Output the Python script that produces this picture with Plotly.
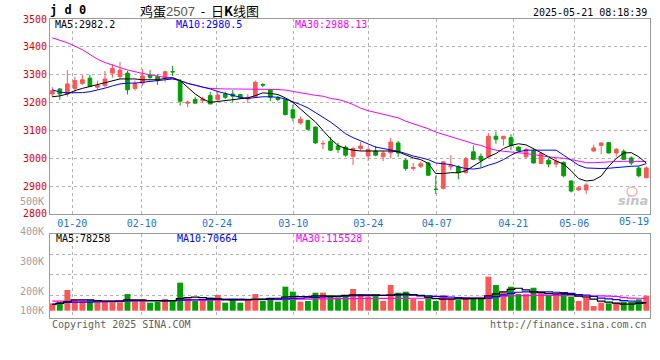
import plotly.graph_objects as go

# ---------------- data ----------------
opens = [3231,3249,3231,3251,3269,3288,3255,3261,3306,3294,
         3306,3251,3270,3299,3294,3290,3311,3276,3198,3211,
         3207,3225,3211,3231,3231,3229,3213,3221,3265,3245,
         3217,3211,3174,3127,3136,3112,3052,3061,3044,3040,
         3007,3035,3008,3026,3005,3019,3055,2993,2963,2971,
         2983,2888.5,2892,2969,2969,2948,3023,3007,3005,3079,
         3070,3074,3040,3005,3026,2981,2993,2979,2985,2918,
         2886,2886,3026,3046,3056,3019,3025,3001,2965,2930]
closes = [3243,3231,3267,3279,3282,3258,3261,3285,3323,3317,
          3246,3269,3296,3290,3279,3311,3310.5,3205,3201,3198,
          3213,3195,3227,3219,3223,3217,3219,3273,3263,3219,
          3211,3157,3145,3140,3104,3055,3052.5,3029,3031,3011,
          3035,3044,3031,3011,3019,3058,3019,2963,2967,2980,
          2939,2888,2987,2975,2948,2999,2996,2993,3079,3068,
          3079,3046,3026,3031,2983,3017,2979,2989,2937,2882,
          2894,2904,3037,3055,3019,3032,2996,2983,2937,2965]
highs = [3255,3252,3317,3293,3299,3300,3279,3314,3338,3346,
         3314,3279,3320,3317,3302,3314,3332,3285,3207,3221,
         3221,3239,3243,3239,3245,3231,3231,3279,3270,3249,
         3225,3213,3193,3150,3138,3114,3064,3076,3056,3046,
         3040,3058,3038,3044,3026,3073,3062,2999,2983,2989,
         2986,2937,2989,3011,2975,3005,3046,3017,3090,3096,
         3080,3086,3043,3038,3035,3023,2999,2999,2989,2921,
         2900,2910,3049,3056,3058,3037,3032,3007,2971,2971]
lows = [3219,3210,3221,3237,3264,3255,3249,3255,3290,3285,
        3229,3243,3261,3285,3264,3273,3296,3189,3183,3198,
        3198,3195,3201,3213,3201,3213,3198,3219,3255,3205,
        3205,3154,3133,3121,3100,3052,3032,3026,3019,3005,
        2975,3026,2990,3007,2990,2999,3005,2955,2955,2965,
        2936,2871,2888,2957,2924,2945,2993,2967,3002,3052,
        3046,3029,3023,2999,2981,2979,2967,2967,2931,2877,
        2883,2871,3023,3014,3017,3005,2995,2975,2931,2927]

ma5 = [3221,3224,3231,3243,3251,3258,3264,3273,3280,3285,
       3285,3285,3282,3281,3282,3287,3290,3279,3255,3231,
       3213,3201,3204,3207,3211,3213,3217,3225,3235,3233,
       3229,3217,3201,3177,3154,3130,3100,3070,3046,3035,
       3029,3026,3026,3026,3025,3026,3023,3013,3001,2995,
       2981,2945,2945,2948,2948,2955,2971,2987,3005,3017,
       3035,3046,3052,3048,3035,3020,3005,2990,2979,2955,
       2927,2918,2921,2936,2971,2999,3019,3020,3005,2982.2]
ma10 = [3246,3238,3235,3235,3236,3239,3245,3252,3260,3267,
        3270,3270,3273,3276,3279,3282,3285,3279,3269,3263,
        3257,3249,3240,3233,3225,3219,3215,3219,3221,3221,
        3219,3213,3204,3193,3181,3165,3148,3130,3110,3088,
        3074,3062,3052,3040,3035,3031,3025,3017,3008,3002,
        2995,2983,2981,2977,2969,2963,2961,2965,2975,2983,
        2995,3011,3023,3029,3029,3029,3029,3029,3011,2993,
        2975,2965,2963,2963,2964,2967,2969,2971,2972,2980.5]
ma30 = [3433,3424,3415,3403,3390,3373,3356,3344,3334,3326,
        3317,3310,3305,3300,3296,3290,3286,3279,3269,3262,
        3255,3251,3249,3249,3249,3249,3248,3248,3248,3247,
        3247,3245,3240,3237,3231,3226,3223,3215,3211,3204,
        3193,3180,3171,3164,3157,3151,3145,3133,3124,3114,
        3106,3094,3086,3079,3070,3061,3052,3046,3036,3029,
        3025,3023,3019,3017,3013,3008,3005,3002,3000,2995,
        2989,2984,2984,2986,2987,2988,2989,2988,2987,2988.13]

volumes = [70,86,197,102,95,102,80,92,80,80,
           158,95,111,76,86,111,102,266,118,92,
           101,124,149,76,108,76,108,158,92,124,
           86,228,181,86,92,171,171,149,127,139,
           206,158,133,139,92,244,171,181,111,92,
           133,92,149,111,101,127,127,111,323,244,
           175,228,158,158,218,165,149,158,175,133,
           92,127,44,76,70,76,86,86,108,143]
vma5 = [61,70,86,102,102,102,95,92,92,92,
        102,102,100,95,95,92,95,115,124,128,
        124,117,112,105,103,103,103,108,110,115,
        118,130,135,135,133,140,140,136,138,145,
        150,150,150,150,145,148,155,158,152,140,
        128,115,110,110,112,112,115,115,140,160,
        178,203,213,197,178,172,162,160,160,155,
        138,130,110,90,82,72,63,62,70,78]
vma10 = [61,70,78,80,80,82,83,85,86,88,
         92,95,96,96,96,95,96,100,102,104,
         106,108,110,110,110,110,108,108,108,110,
         110,113,117,120,123,126,130,133,136,139,
         142,142,143,145,146,147,148,150,148,145,
         140,136,133,130,125,120,118,116,120,133,
         150,165,175,178,178,178,178,175,171,165,
         152,149,135,120,112,105,96,92,80,71]
vma30 = [90,90,90,91,91,91,92,92,92,93,
         93,94,94,95,95,96,97,98,99,100,
         100,101,102,102,103,103,104,104,105,105,
         106,107,108,109,110,111,112,113,114,115,
         115,116,116,116,117,117,117,117,118,118,
         118,118,119,119,119,120,122,125,128,133,
         138,140,142,143,145,145,145,145,143,142,
         142,141,140,140,138,135,125,120,118,116]

tick_pos = [2.66, 11.89, 21.9, 32.05, 42.03, 51.12, 61.31, 69.42]
tick_labels = ["01-20", "02-10", "02-24", "03-10", "03-24", "04-07", "04-21", "05-06"]
last_label = "05-19"
price_ticks = [2800, 2900, 3000, 3100, 3200, 3300, 3400, 3500]
vol_labels = ["500K", "400K", "300K", "200K", "100K"]

# ---------------- styling ----------------
RED = "#ff5555"
GREEN = "#00a000"
GRID = "#b4b4b4"
FRAME = "#9a9a9a"
MONO = "DejaVu Sans Mono"
W, H = 660, 360
L, R, T, B = 50, 10, 19, 42
PW, PH = W - L - R, H - T - B


def px(xp):
    return (xp - L) / PW


def py(yp):
    return (H - B - yp) / PH


n = len(closes)
xs = list(range(n))
vols = [v * 1000 for v in volumes]
bar_colors = [RED if c > o else GREEN for o, c in zip(opens, closes)]

fig = go.Figure()
fig.add_trace(go.Candlestick(
    x=xs, open=opens, high=highs, low=lows, close=closes,
    increasing=dict(line=dict(color=RED, width=1), fillcolor=RED),
    decreasing=dict(line=dict(color=GREEN, width=1), fillcolor=GREEN),
    xaxis="x", yaxis="y", hoverinfo="skip", showlegend=False))
for vals, col in ((ma30, "#ff00ff"), (ma10, "#0000ff"), (ma5, "#000000")):
    fig.add_trace(go.Scatter(x=xs, y=vals, mode="lines",
                             line=dict(color=col, width=1),
                             xaxis="x", yaxis="y", showlegend=False,
                             hoverinfo="skip"))

fig.add_trace(go.Bar(x=xs, y=vols, marker=dict(color=bar_colors, line=dict(width=0)),
                     width=0.78, xaxis="x2", yaxis="y2", showlegend=False,
                     hoverinfo="skip"))
for vals, col in ((vma30, "#ff00ff"), (vma10, "#0000ff"), (vma5, "#000000")):
    fig.add_trace(go.Scatter(x=xs, y=[v * 1000 for v in vals], mode="lines",
                             line=dict(color=col, width=1.2, shape="hvh"),
                             xaxis="x2", yaxis="y2", showlegend=False,
                             hoverinfo="skip"))

xrange = [-0.306, 79.49]
common_x = dict(range=xrange, tickmode="array", tickvals=tick_pos,
                showgrid=True, gridcolor=GRID, griddash="dot", gridwidth=1,
                showline=True, linecolor=FRAME, linewidth=1, mirror=True,
                ticks="", zeroline=False, fixedrange=True)

main_dom = [py(214), 1]
vol_dom = [0, py(234)]

fig.update_layout(
    width=W, height=H, autosize=False,
    margin=dict(l=L, r=R, t=T, b=B, pad=0),
    paper_bgcolor="white", plot_bgcolor="white",
    showlegend=False, boxgap=0.3,
    xaxis=dict(**common_x, anchor="y", ticktext=tick_labels,
               tickfont=dict(family=MONO, size=10, color="#1a73d9"),
               rangeslider=dict(visible=False)),
    yaxis=dict(domain=main_dom, range=[2799.5, 3500.5], anchor="x",
               tickmode="array", tickvals=price_ticks,
               ticktext=[str(v) for v in price_ticks],
               tickfont=dict(family=MONO, size=10, color="#e00000"),
               showgrid=True, gridcolor=GRID, griddash="dot", gridwidth=1,
               showline=True, linecolor=FRAME, linewidth=1, mirror=True,
               ticks="", zeroline=False, fixedrange=True),
    xaxis2=dict(**common_x, anchor="y2", matches="x", showticklabels=False),
    yaxis2=dict(domain=vol_dom, range=[-69400, 728600], anchor="x2",
                tickmode="array", tickvals=[144400, 339150, 529150],
                showticklabels=False,
                showgrid=True, gridcolor=GRID, griddash="dot", gridwidth=1,
                showline=True, linecolor=FRAME, linewidth=1, mirror=True,
                ticks="", zeroline=False, fixedrange=True),
)

ann = []


def text(x, y, s, color="#000", size=10, family=MONO, xanchor="left", **kw):
    ann.append(dict(x=px(x), y=py(y), xref="paper", yref="paper", text=s,
                    showarrow=False, xanchor=xanchor, yanchor="middle",
                    font=dict(family=family, size=size, color=color), **kw))


text(49, 10, "<b>j d 0</b>", size=12, borderpad=0)
text(139, 10, "鸡蛋<span style='color:#555555;font-family:Liberation Sans'>2507</span>  -  日<b>K</b>线图",
     size=13, family="Noto Sans CJK SC", borderpad=0)
text(649, 12, "2025-05-21 08:18:39", xanchor="right")
text(54, 25, "MA5:2982.2", color="#000000", borderpad=0)
text(175, 25, "MA10:2980.5", color="#0000ff", borderpad=0)
text(294, 25, "MA30:2988.13", color="#ff00ff", borderpad=0)
text(54, 238.5, "MA5:78258", color="#000000")
text(175, 238.5, "MA10:70664", color="#0000ff")
text(294, 238.5, "MA30:115528", color="#ff00ff")
for lab, yy in zip(vol_labels, [201, 231, 261, 291, 310]):
    text(46, yy, lab, color="#a0a0a0", xanchor="right")
text(634, 221, last_label, color="#1a73d9", xanchor="center")
text(50, 324, "Copyright 2025 SINA.COM", color="#606060")
text(649, 324, "http://finance.sina.com.cn", color="#606060", xanchor="right")
text(633, 200, "<b><i>sina</i></b>", color="#c4c4c4", size=13, family="DejaVu Sans",
     xanchor="center")
fig.update_layout(annotations=ann)
fig.add_shape(type="circle", xref="paper", yref="paper",
              x0=px(627), x1=px(637), y0=py(196), y1=py(187),
              line=dict(color="#f2b4b4", width=1.5), fillcolor="rgba(0,0,0,0)")

fig.write_html("out.html", config={"displayModeBar": False},
               post_script="document.body.style.margin='0';document.body.style.overflow='hidden';")
